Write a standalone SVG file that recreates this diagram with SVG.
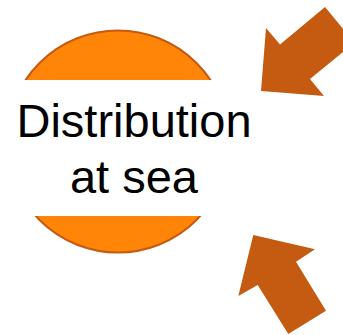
<svg xmlns="http://www.w3.org/2000/svg" width="343" height="335" viewBox="0 0 343 335">
<style>
.arrow{fill:#C55A11;}
.lbl{font-family:"Liberation Sans",Arial,sans-serif;font-size:47px;fill:#000;text-anchor:middle;}
</style>
<rect width="343" height="335" fill="#fff"/>
<g id="node-distribution">
<circle cx="118" cy="141.5" r="111" fill="#FF8508" stroke="#C55A11" stroke-width="2"/>
<rect x="0" y="80" width="262" height="136" fill="#fff"/>
<text class="lbl" x="134" y="137">Distribution</text>
<text class="lbl" x="134" y="193">at sea</text>
</g>
<g id="connectors">
<polygon class="arrow" points="261,91 266,28 280,44.5 325,7 354.5,42.5 310,79 324,96"/>
<polygon class="arrow" points="253.3,235 315,249.3 296,261.7 326,310.7 288.3,334 257.7,285 238.3,296"/>
</g>
</svg>
